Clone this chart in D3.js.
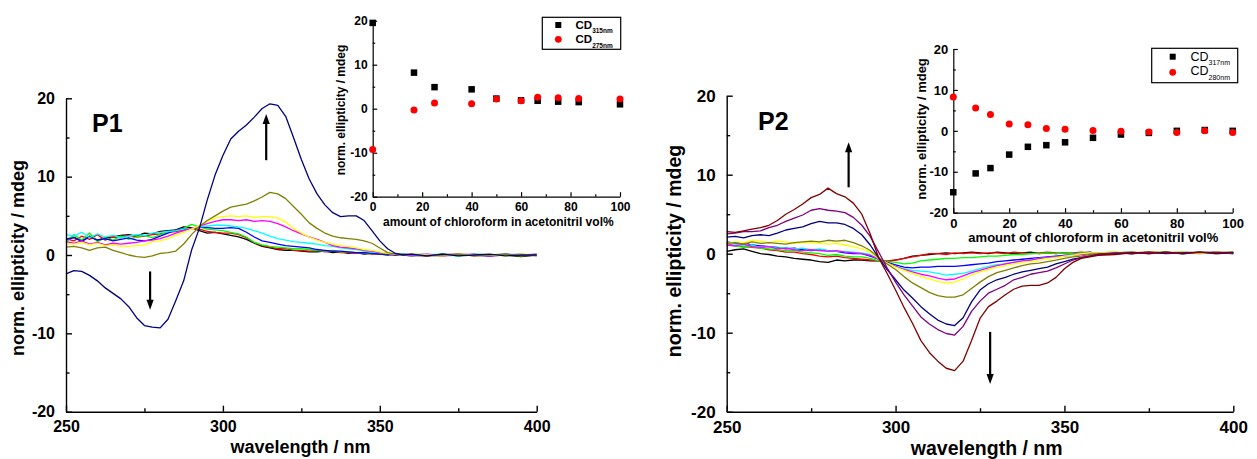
<!DOCTYPE html>
<html><head><meta charset="utf-8">
<script src="https://cdn.jsdelivr.net/npm/d3@7"></script>
<style>
body{margin:0;background:#fff}
svg{display:block}
text{font-family:"Liberation Sans",Arial,Helvetica,sans-serif}
</style>
</head><body>
<svg id="chart" width="1257" height="459"></svg>
<script>
// ---------- DATA ----------
const wavelengths = [250,252.5,255,257.5,260,262.5,265,267.5,270,272.5,275,277.5,280,282.5,285,287.5,290,292.5,295,297.5,300,302.5,305,307.5,310,312.5,315,317.5,320,322.5,325,327.5,330,332.5,335,337.5,340,342.5,345,347.5,350,352.5,355,357.5,360,365,370,375,380,385,390,395,400];

// Panel P1 spectra (norm. ellipticity / mdeg)
const p1Black   = [2.0,2.3,1.7,2.4,1.9,2.2,2.3,2.5,2.6,2.4, 2.8,2.7,3.0,3.1,3.2,3.6,3.5,3.1,2.8,2.9, 2.7,2.5,2.3,2.0,1.5,1.1,0.9,0.7,0.6,0.6, 0.5,0.4,0.4,0.5,0.3,0.4,0.2,0.3,0.1,0.2, 0.1,0.0,0.1,0.0,-0.1, 0.0,-0.1,0.1,0.0,-0.1,0.0,-0.2,0.0];
const p1Red     = [2.1,1.8,2.4,2.0,2.6,1.9,2.3,2.2,2.5,2.3, 2.4,2.6,2.7,2.9,3.0,3.2,3.4,3.3,3.0,2.9, 2.8,2.8,2.6,2.2,1.6,1.2,1.0,0.8,0.8,0.6, 0.6,0.5,0.6,0.4,0.5,0.3,0.3,0.2,0.3,0.1, 0.2,0.1,0.0,0.1,0.0, -0.1,0.0,0.1,-0.1,0.0,0.0,0.1,-0.1];
const p1Green   = [1.6,2.6,1.9,2.8,1.7,2.2,1.9,2.4,2.0,2.3, 2.5,2.2,2.6,2.9,3.1,3.4,3.9,3.6,3.3,3.2, 3.1,2.9,2.7,2.3,1.6,1.3,1.1,1.0,0.9,0.8, 0.8,0.7,0.6,0.5,0.6,0.4,0.4,0.3,0.3,0.2, 0.2,0.1,0.1,0.0,0.1, 0.0,0.1,-0.1,0.1,0.0,0.1,-0.1,0.1];
const p1Blue    = [2.0,2.2,1.8,2.3,1.9,2.1,1.8,2.0,2.2,1.9, 1.8,2.0,2.4,2.8,3.2,3.3,3.4,3.6,3.5,3.4, 3.4,3.5,3.4,2.9,2.3,1.8,1.6,1.4,1.2,1.1, 1.0,0.9,0.7,0.6,0.5,0.5,0.4,0.3,0.3,0.2, 0.1,0.1,0.0,0.1,0.0, -0.1,0.1,0.0,0.0,-0.1,0.1,0.0,0.0];
const p1Cyan    = [2.6,2.4,2.9,2.2,2.7,2.3,2.5,2.2,2.4,2.6, 2.5,2.8,2.9,3.0,3.1,3.3,3.4,3.6,3.7,3.8, 3.8,3.7,3.6,3.4,3.1,2.8,2.4,2.1,1.9,1.7, 1.6,1.5,1.4,1.2,1.1,0.9,0.8,0.7,0.5,0.4, 0.3,0.2,0.1,0.1,0.0, 0.1,0.0,-0.1,0.1,0.0,0.0,0.1,-0.1];
const p1Magenta = [1.7,1.5,1.8,1.4,1.6,1.3,1.5,1.4,1.5,1.6, 1.8,1.9,2.1,2.4,2.8,3.1,3.4,3.7,4.0,4.3, 4.5,4.5,4.4,4.5,4.3,4.4,4.3,4.0,3.6,3.1, 2.7,2.3,2.0,1.6,1.2,1.0,0.9,0.8,0.6,0.5, 0.3,0.2,0.1,0.0,0.0, 0.1,-0.1,0.0,0.1,-0.1,0.0,0.0,0.1];
const p1Yellow  = [1.5,1.4,1.6,1.3,1.5,1.2,1.3,1.1,1.1,1.2, 1.3,1.7,1.8,2.1,2.5,2.9,3.3,3.8,4.3,4.7, 4.9,5.0,4.9,5.0,4.8,4.9,4.9,4.7,4.2,3.4, 2.8,2.3,1.9,1.6,1.4,1.2,1.1,0.9,0.7,0.6, 0.4,0.2,0.1,0.0,0.1, 0.0,-0.1,0.1,0.0,0.0,-0.1,0.1,0.0];
const p1Olive   = [1.0,1.1,0.9,0.6,0.9,1.0,0.6,0.3,0.0,-0.2, -0.3,-0.1,0.2,0.3,0.5,1.4,2.6,3.6,4.4,5.0, 5.6,6.1,6.3,6.5,6.9,7.4,8.0,7.8,7.2,6.2, 5.2,4.1,3.4,2.8,2.4,2.2,2.1,2.0,1.8,1.5, 0.9,0.3,0.1,0.0,0.1, -0.1,0.0,0.1,-0.1,0.0,0.1,-0.1,0.0];
const p1Navy    = [-2.4,-2.0,-2.1,-2.6,-3.3,-4.2,-4.9,-5.6,-6.6,-8.0, -9.0,-9.2,-9.3,-8.2,-5.8,-3.3,0.6,3.4,7.0,10.2, 12.7,14.8,15.8,16.6,17.6,18.7,19.3,19.1,17.7,15.0, 12.2,9.7,7.8,6.4,5.4,4.9,5.0,5.0,4.4,3.1, 1.8,0.8,0.2,0.0,0.1, -0.1,0.1,-0.1,0.0,0.1,-0.1,0.0,0.0];

// Panel P2 spectra
const p2Black   = [0.3,0.5,0.6,0.3,0.0,-0.1,-0.3,-0.4,-0.6,-0.7, -0.8,-1.0,-1.1,-0.8,-0.9,-0.8,-0.8,-0.9,-0.9,-1.0, -0.8,-0.6,-0.3,-0.2,-0.1,0.0,0.1,0.0,0.1,0.2, 0.1,0.0,0.2,0.1,0.0,0.1,0.2,0.0,0.1,0.0, 0.1,0.0,0.1,0.2,0.0, 0.1,0.0,0.1,0.2,0.0,0.1,0.1,0.0];
const p2Red     = [1.3,1.0,0.9,0.8,0.7,0.5,0.4,0.2,0.2,0.0, -0.1,-0.3,-0.4,-0.3,-0.5,-0.6,-0.7,-0.8,-0.9,-0.9, -0.8,-0.6,-0.4,-0.2,0.0,0.0,-0.1,0.1,0.0,0.1, 0.0,0.1,0.1,0.0,0.2,0.1,0.0,0.1,0.2,0.1, 0.0,0.1,0.2,0.1,0.0, 0.1,0.2,0.0,0.1,0.2,0.1,0.0,0.1];
const p2Green   = [1.1,1.0,0.8,0.9,0.7,0.6,0.5,0.4,0.4,0.2, 0.1,0.0,-0.2,-0.1,-0.3,-0.4,-0.4,-0.6,-0.9,-1.0, -1.1,-1.3,-1.2,-0.9,-0.8,-0.7,-0.6,-0.6,-0.5,-0.5, -0.4,-0.3,-0.3,-0.2,-0.1,-0.1,0.0,0.0,0.1,0.0, 0.1,0.0,0.1,0.0,0.1, 0.2,0.0,0.1,0.2,0.0,0.1,0.1,0.2];
const p2Blue    = [1.5,1.3,1.4,1.1,1.0,0.9,0.8,0.6,0.7,0.5, 0.4,0.5,0.4,0.3,0.1,0.0,0.0,-0.3,-0.7,-1.1, -1.4,-1.7,-1.8,-1.7,-1.7,-1.6,-1.6,-1.6,-1.5,-1.4, -1.3,-1.2,-1.0,-0.9,-0.8,-0.7,-0.6,-0.5,-0.4,-0.3, -0.2,-0.1,0.0,0.1,0.0, 0.1,0.0,0.2,0.1,0.0,0.1,0.2,0.0];
const p2Cyan    = [1.3,1.2,1.0,1.1,0.8,0.9,0.7,0.8,0.6,0.7, 0.5,0.6,0.4,0.3,0.3,0.2,0.1,-0.1,-0.7,-1.2, -1.6,-1.9,-2.1,-2.2,-2.3,-2.5,-2.7,-2.6,-2.5,-2.2, -1.9,-1.6,-1.4,-1.3,-1.1,-0.9,-0.8,-0.6,-0.5,-0.4, -0.3,-0.1,0.0,0.1,0.0, 0.1,0.2,0.0,0.1,0.2,0.1,0.0,0.1];
const p2Magenta = [1.1,1.0,1.2,0.9,0.8,0.9,0.6,0.7,0.5,0.4, 0.5,0.4,0.3,0.4,0.2,0.1,0.0,-0.2,-0.7,-1.2, -1.6,-2.0,-2.3,-2.6,-2.8,-3.1,-3.3,-3.2,-2.8,-2.4, -2.1,-1.8,-1.5,-1.3,-1.1,-0.9,-0.8,-0.6,-0.5,-0.4, -0.3,-0.2,-0.1,0.0,0.1, 0.1,0.0,0.2,0.1,0.1,0.0,0.2,0.1];
const p2Yellow  = [1.3,1.5,1.4,1.7,1.6,1.4,1.6,1.5,1.3,1.4, 1.4,1.3,1.2,1.3,1.1,0.9,0.6,0.2,-0.6,-1.2, -1.7,-2.1,-2.5,-2.9,-3.2,-3.5,-3.7,-3.6,-3.2,-2.7, -2.3,-2.0,-1.7,-1.5,-1.3,-1.1,-1.0,-0.8,-0.6,-0.5, -0.3,-0.2,0.0,0.1,0.1, 0.2,0.1,0.3,0.1,0.2,0.0,0.2,0.1];
const p2Olive   = [1.3,1.4,1.2,1.5,1.3,1.4,1.3,1.2,1.4,1.5, 1.6,1.5,1.7,1.6,1.7,1.4,1.0,0.4,-0.5,-1.3, -2.0,-2.9,-3.7,-4.3,-4.9,-5.3,-5.5,-5.5,-5.2,-4.4, -3.6,-2.9,-2.4,-2.1,-1.8,-1.5,-1.3,-1.2,-1.0,-0.8, -0.6,-0.4,-0.3,-0.1,0.0, 0.1,0.2,0.0,0.2,0.1,0.1,0.2,0.1];
const p2Navy    = [2.1,2.2,2.0,2.3,2.4,2.3,2.6,3.0,3.2,3.4, 3.8,4.1,3.9,3.9,3.7,3.2,2.4,1.1,-0.5,-2.0, -3.3,-4.6,-5.6,-6.7,-7.6,-8.4,-8.9,-9.1,-8.1,-6.1, -4.6,-3.8,-3.3,-3.0,-2.6,-2.3,-2.1,-1.9,-1.7,-1.3, -1.0,-0.7,-0.5,-0.3,-0.1, 0.0,0.1,0.2,0.0,0.1,0.2,0.0,0.1];
const p2Purple  = [2.5,2.6,2.8,2.8,2.9,3.3,3.6,4.1,4.5,4.9, 5.5,5.7,5.5,5.4,5.2,4.6,3.6,2.2,0.2,-1.8, -3.6,-5.2,-6.6,-8.0,-8.9,-9.6,-10.1,-10.3,-9.2,-7.3, -6.0,-5.0,-4.5,-4.0,-3.3,-3.0,-2.6,-2.4,-2.2,-1.8, -1.3,-0.8,-0.5,-0.3,-0.1, 0.1,0.0,0.2,0.1,0.0,0.2,0.1,0.1];
const p2Maroon  = [2.8,2.7,2.9,3.1,3.3,3.6,4.2,5.0,5.6,6.3, 7.1,7.5,8.3,7.6,7.2,6.4,5.0,2.5,-0.5,-2.5, -4.6,-6.8,-8.8,-11.0,-12.5,-13.6,-14.5,-14.8,-13.6,-11.0, -8.2,-6.7,-6.0,-5.2,-4.5,-4.1,-4.0,-4.0,-3.7,-3.0, -1.9,-1.1,-0.6,-0.4,-0.2, -0.1,0.1,0.0,0.2,0.0,0.2,0.1,0.2];

// Inset data: amount of chloroform in acetonitril (vol%)
const p1Vol    = [0,16.7,25,40,50,60,66.7,75,83.3,100];
const p1CD315  = [19.5,8.2,4.9,4.4,2.3,1.9,1.8,1.6,1.5,1.0];
const p1CD275  = [-9.3,-0.3,1.3,1.1,2.2,1.8,2.6,2.5,2.3,2.2];
const p2Vol    = [0,8,13.3,20,26.7,33.3,40,50,60,70,80,90,100];
const p2CD317  = [-15.0,-10.4,-9.1,-5.8,-3.9,-3.5,-2.8,-1.7,-0.9,-0.5,0.0,0.2,0.0];
const p2CD280  = [8.3,5.6,4.0,1.7,1.5,0.6,0.4,0.1,-0.1,-0.3,-0.4,0.0,-0.4];

// Ticks
const mainXTicks = [250,300,350,400];
const mainXMinor = [275,325,375];
const yTicks = [-20,-10,0,10,20];
const yMinor = [-15,-5,5,15];
const insetXTicks = [0,20,40,60,80,100];
const insetXMinor = [10,30,50,70,90];

// Arrows (in data units: wavelength, ellipticity)
const p1Arrows = [[313.8,12.1,313.8,18.0],[276.8,-2.1,276.8,-7.0]];
const p2Arrows = [[286.1,8.4,286.1,14.1],[328.0,-9.9,328.0,-16.5]];

// ---------- DRAWING ----------
const svg = d3.select("#chart");
const FONT = '"Liberation Sans",Arial,Helvetica,sans-serif';
const fmt = d => String(d);

function axes(g, x, y, o) {
  const yb = y.range()[0], xl = x.range()[0];
  const style = sel => {
    sel.attr("font-family", FONT).attr("font-size", o.fs).attr("font-weight", "bold");
    sel.selectAll("path,line").attr("stroke", "#000").attr("stroke-width", o.sw);
    sel.selectAll("text").attr("fill", "#000");
  };
  g.append("g").attr("transform", `translate(0,${yb})`)
    .call(d3.axisBottom(x).tickValues(o.xt).tickSizeInner(-o.maj).tickSizeOuter(0).tickPadding(o.xpad).tickFormat(fmt))
    .call(style);
  g.append("g").attr("transform", `translate(0,${yb})`)
    .call(d3.axisBottom(x).tickValues(o.xm).tickSizeInner(-o.min).tickSizeOuter(0).tickFormat(""))
    .call(style).select(".domain").remove();
  g.append("g").attr("transform", `translate(${xl},0)`)
    .call(d3.axisLeft(y).tickValues(yTicks).tickSizeInner(-o.maj).tickSizeOuter(0).tickPadding(o.ypad).tickFormat(fmt))
    .call(style);
  g.append("g").attr("transform", `translate(${xl},0)`)
    .call(d3.axisLeft(y).tickValues(yMinor).tickSizeInner(-o.min).tickSizeOuter(0).tickFormat(""))
    .call(style).select(".domain").remove();
}

function label(x, y, txt, fs, rot, weight) {
  const t = svg.append("text").attr("font-family", FONT).attr("font-size", fs)
    .attr("font-weight", weight || "bold").attr("text-anchor", "middle").text(txt);
  if (rot) t.attr("transform", `translate(${x},${y}) rotate(-90)`);
  else t.attr("x", x).attr("y", y);
  return t;
}

function arrows(x, y, list) {
  list.forEach(a => {
    const x1 = x(a[0]), y1 = y(a[1]), x2 = x(a[2]), y2 = y(a[3]);
    const dir = Math.sign(y2 - y1);
    const hl = 10, hw = 3.6;
    svg.append("line").attr("x1", x1).attr("y1", y1).attr("x2", x2).attr("y2", y2 - dir * hl * 0.8)
      .attr("stroke", "#000").attr("stroke-width", 2.2);
    svg.append("path").attr("d", `M${x2},${y2} L${x2 - hw},${y2 - dir * hl} L${x2 + hw},${y2 - dir * hl} Z`).attr("fill", "#000");
  });
}

function panel(cfg) {
  const x = d3.scaleLinear().domain([250, 400]).range(cfg.xr);
  const y = d3.scaleLinear().domain([-20, 20]).range(cfg.yr);
  const g = svg.append("g");
  const line = d3.line().x((d, i) => x(wavelengths[i])).y(d => y(d));
  cfg.series.forEach(s => {
    g.append("path").attr("d", line(s.values)).attr("fill", "none")
      .attr("stroke", s.color).attr("stroke-width", 1.3).attr("stroke-linejoin", "round");
  });
  axes(g, x, y, {xt: mainXTicks, xm: mainXMinor, maj: 6, min: 3.5, fs: cfg.tickFs, xpad: 9, ypad: 11, sw: 1.4});
  arrows(x, y, cfg.arrows);
  label(cfg.xTitle[0], cfg.xTitle[1], "wavelength / nm", cfg.titleFs);
  label(cfg.yTitle[0], cfg.yTitle[1], "norm. ellipticity / mdeg", cfg.titleFs, true);
  svg.append("text").attr("x", cfg.pl[0]).attr("y", cfg.pl[1]).attr("font-family", FONT)
    .attr("font-size", 25).attr("font-weight", "bold").text(cfg.name);

  // inset
  const ix = d3.scaleLinear().domain([0, 100]).range(cfg.ixr);
  const iy = d3.scaleLinear().domain([-20, 20]).range(cfg.iyr);
  const ig = svg.append("g");
  axes(ig, ix, iy, {xt: insetXTicks, xm: insetXMinor, maj: 4.5, min: 2.5, fs: cfg.iFs, xpad: 6, ypad: 5, sw: 1.2});
  const sq = 6.5;
  ig.selectAll("rect.sq").data(cfg.vol.map((v, i) => [v, cfg.sqVals[i]])).join("rect")
    .attr("x", d => ix(d[0]) - sq / 2).attr("y", d => iy(d[1]) - sq / 2)
    .attr("width", sq).attr("height", sq).attr("fill", "#000");
  ig.selectAll("circle.ci").data(cfg.vol.map((v, i) => [v, cfg.ciVals[i]])).join("circle")
    .attr("cx", d => ix(d[0])).attr("cy", d => iy(d[1])).attr("r", 3.5).attr("fill", "#ff0000");
  label(cfg.ixTitle[0], cfg.ixTitle[1], "amount of chloroform in acetonitril vol%", cfg.iFs);
  label(cfg.iyTitle[0], cfg.iyTitle[1], "norm. ellipticity / mdeg", cfg.iFs, true);

  // legend
  const L = cfg.legend;
  svg.append("rect").attr("x", L.box[0]).attr("y", L.box[1]).attr("width", L.box[2] - L.box[0])
    .attr("height", L.box[3] - L.box[1]).attr("fill", "#fff").attr("stroke", "#000").attr("stroke-width", 1.2);
  svg.append("rect").attr("x", L.mx - 3).attr("y", L.y1 - 3).attr("width", 6).attr("height", 6).attr("fill", "#000");
  svg.append("circle").attr("cx", L.mx).attr("cy", L.y2).attr("r", 3.4).attr("fill", "#ff0000");
  [[L.t1, L.s1, L.y1], [L.t2, L.s2, L.y2]].forEach(([tb, sub, cy]) => {
    const t = svg.append("text").attr("x", L.tx).attr("y", tb).attr("font-family", FONT)
      .attr("font-size", L.fs).attr("font-weight", L.weight);
    t.append("tspan").text("CD");
    t.append("tspan").attr("font-size", L.subFs).attr("dy", L.subDy).text(sub);
  });
}

panel({
  name: "P1",
  xr: [66, 536.7], yr: [411.7, 98.3],
  series: [
    {color: "#000000", values: p1Black},
    {color: "#ff0000", values: p1Red},
    {color: "#00ff00", values: p1Green},
    {color: "#0000ff", values: p1Blue},
    {color: "#00ffff", values: p1Cyan},
    {color: "#ff00ff", values: p1Magenta},
    {color: "#ffff00", values: p1Yellow},
    {color: "#808000", values: p1Olive},
    {color: "#000080", values: p1Navy}
  ],
  arrows: p1Arrows,
  tickFs: 16, titleFs: 18,
  xTitle: [300.5, 453], yTitle: [24, 258],
  pl: [92, 131.5],
  ixr: [372.7, 620], iyr: [196.7, 20.7], iFs: 12,
  vol: p1Vol, sqVals: p1CD315, ciVals: p1CD275,
  ixTitle: [498.3, 226], iyTitle: [345, 110],
  legend: {box: [542.3, 17.3, 620.7, 49.3], mx: 558.3, y1: 25, y2: 39.3, tx: 575.5,
    t1: 28.8, t2: 43.3, s1: "315nm", s2: "275nm", fs: 11.5, subFs: 6.5, subDy: 4.4, weight: "bold"}
});

panel({
  name: "P2",
  xr: [726.7, 1233.3], yr: [411.7, 95.7],
  series: [
    {color: "#000000", values: p2Black},
    {color: "#ff0000", values: p2Red},
    {color: "#00ff00", values: p2Green},
    {color: "#0000ff", values: p2Blue},
    {color: "#00ffff", values: p2Cyan},
    {color: "#ff00ff", values: p2Magenta},
    {color: "#ffff00", values: p2Yellow},
    {color: "#808000", values: p2Olive},
    {color: "#000080", values: p2Navy},
    {color: "#800080", values: p2Purple},
    {color: "#800000", values: p2Maroon}
  ],
  arrows: p2Arrows,
  tickFs: 17, titleFs: 19.5,
  xTitle: [986.7, 455], yTitle: [681, 251],
  pl: [758, 130],
  ixr: [953.3, 1232.7], iyr: [212.7, 49], iFs: 13,
  vol: p2Vol, sqVals: p2CD317, ciVals: p2CD280,
  ixTitle: [1093.3, 241.5], iyTitle: [926, 129],
  legend: {box: [1151.7, 48.3, 1237.7, 82.7], mx: 1172.7, y1: 56.7, y2: 72.3, tx: 1190.5,
    t1: 60.8, t2: 75.2, s1: "317nm", s2: "280nm", fs: 12.5, subFs: 7, subDy: 4.3, weight: "normal"}
});
</script>
</body></html>
